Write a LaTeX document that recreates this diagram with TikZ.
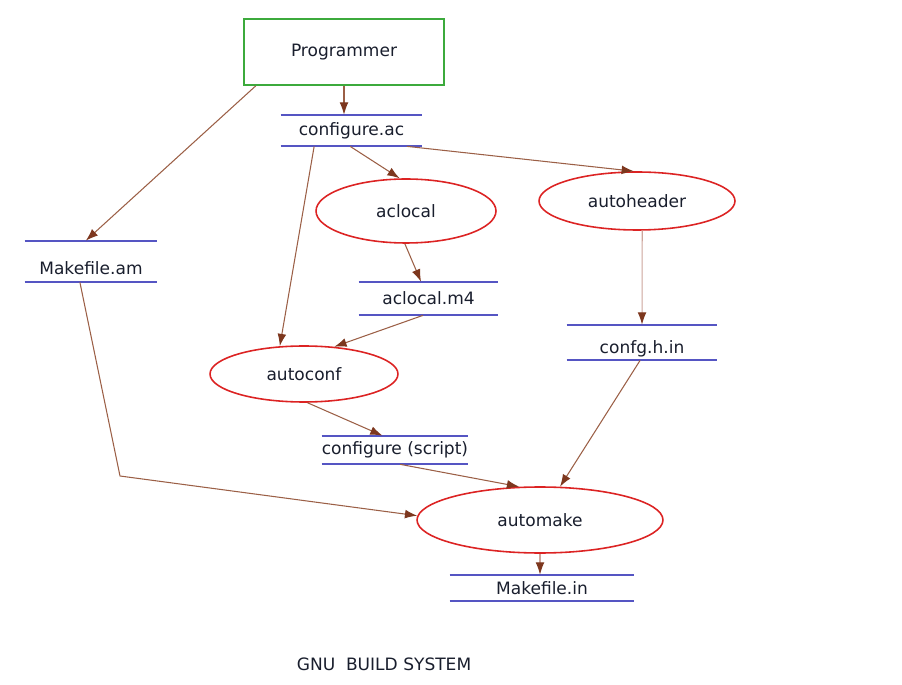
\documentclass[tikz,border=0pt]{standalone}
\usepackage{fontspec}
\setmainfont{DejaVu Sans}
\usetikzlibrary{shapes.geometric}
\usetikzlibrary{arrows.meta}
\definecolor{flowline}{RGB}{155,95,70}
\definecolor{flowhead}{RGB}{125,55,30}
\definecolor{paleline}{RGB}{205,165,155}
\definecolor{fileblue}{RGB}{85,85,195}
\definecolor{toolred}{RGB}{220,35,35}
\definecolor{boxgreen}{RGB}{60,170,60}
\definecolor{labelink}{RGB}{25,30,45}
\begin{document}
\begin{tikzpicture}[x=0.02cm,y=-0.02cm,
  every node/.style={font=\fontsize{9.7}{12}\selectfont,text=labelink},
  tool/.style={draw=toolred,line width=0.9pt,ellipse,inner sep=0pt},
  fileline/.style={draw=fileblue,line width=1pt,-},
  datafile/.style={inner sep=0pt,minimum height=#1,
    append after command={(\tikzlastnode.north west) edge[fileline] (\tikzlastnode.north east)
      (\tikzlastnode.south west) edge[fileline] (\tikzlastnode.south east)}},
  flow/.style={draw=flowline,line width=0.6pt,-{Latex[length=7pt,width=5pt,color=flowhead]}},
  paleflow/.style={flow,draw=paleline}]
  \useasboundingbox (0,0) rectangle (902,685);
  \node (prog) at (344,52)[draw=boxgreen,line width=1pt,minimum width=4cm,minimum height=1.32cm]{Programmer};
  \node (confac) at (351.5,130.5)[datafile=0.62cm,minimum width=2.82cm]{configure.ac};
  \node (aclocal) at (406,211)[tool,minimum width=3.6cm,minimum height=1.28cm]{aclocal};
  \node (autoheader) at (637,201)[tool,minimum width=3.92cm,minimum height=1.16cm]{autoheader};
  \node (makeam) at (91,261.5)[datafile=0.82cm,minimum width=2.64cm,text height=14.8pt]{Makefile.am};
  \node (aclocalm4) at (428.5,298.5)[datafile=0.66cm,minimum width=2.78cm]{aclocal.m4};
  \node (confgh) at (642,342.5)[datafile=0.7cm,minimum width=3cm,text height=14.8pt]{confg.h.in};
  \node (autoconf) at (304,374)[tool,minimum width=3.76cm,minimum height=1.12cm]{autoconf};
  \node (confscript) at (395,450)[datafile=0.56cm,minimum width=2.9cm]{configure (script)};
  \node (automake) at (540,520)[tool,minimum width=4.92cm,minimum height=1.32cm]{automake};
  \node (makein) at (542,588)[datafile=0.52cm,minimum width=3.68cm]{Makefile.in};
  \node (title) at (384,664){GNU\ \ BUILD SYSTEM};
  \coordinate (bend) at (120,476);
  \draw[flow](prog.south)--(prog.south |- confac.north);
  \draw[flow](prog.201)--(makeam.104);
  \draw[flow](confac.203)--(autoconf.131);
  \draw[flow](confac.265)--(aclocal.101);
  \draw[flow](confac.344)--(autoheader.96);
  \draw[flow](aclocal.268)--(aclocalm4.114);
  \draw[flow](aclocalm4.252)--(autoconf.42);
  \draw[paleflow](autoheader.280)--(confgh.north);
  \draw[flow](autoconf.277)--(confscript.131);
  \draw[flow](confscript.290)--(automake.122);
  \draw[flow](confgh.264)--(automake.59);
  \draw[flow](makeam.242)--(bend)--(automake.178);
  \draw[paleflow](automake.south)--(automake.south |- makein.north);
\end{tikzpicture}
\end{document}
